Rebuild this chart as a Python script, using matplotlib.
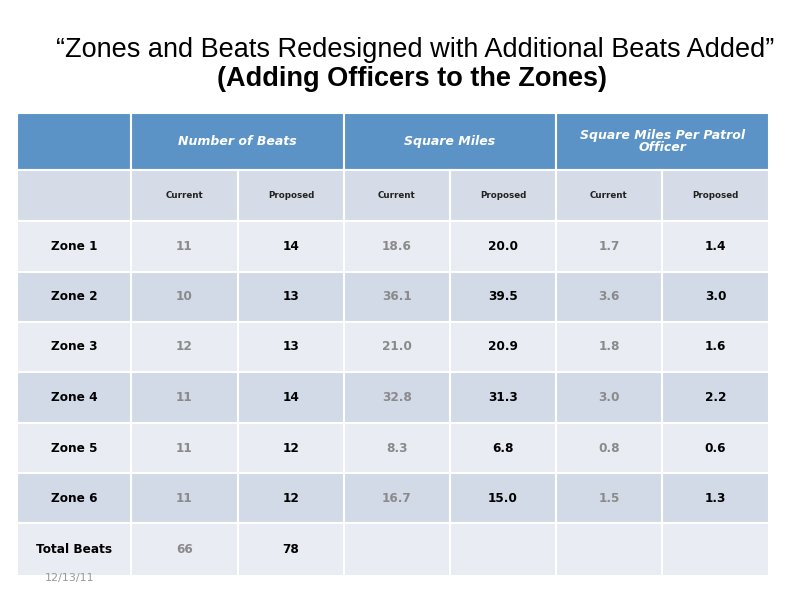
import matplotlib
matplotlib.use('Agg')
import matplotlib.pyplot as plt
from matplotlib.patches import Rectangle

# 数据
zones = ['Zone 1', 'Zone 2', 'Zone 3', 'Zone 4', 'Zone 5', 'Zone 6']
beats_current = ['11', '10', '12', '11', '11', '11']
beats_proposed = ['14', '13', '13', '14', '12', '12']
sqmi_current = ['18.6', '36.1', '21.0', '32.8', '8.3', '16.7']
sqmi_proposed = ['20.0', '39.5', '20.9', '31.3', '6.8', '15.0']
per_officer_current = ['1.7', '3.6', '1.8', '3.0', '0.8', '1.5']
per_officer_proposed = ['1.4', '3.0', '1.6', '2.2', '0.6', '1.3']
total_label = 'Total Beats'
total_current = '66'
total_proposed = '78'
group_headers = ['Number of Beats', 'Square Miles', 'Square Miles Per Patrol\nOfficer']
sub_headers = ['Current', 'Proposed']

title1 = '\u201cZones and Beats Redesigned with Additional Beats Added\u201d'
title2 = '(Adding Officers to the Zones)'
date_text = '12/13/11'

# 布局（像素）
col_x = [17, 131, 238, 344, 450, 556, 662, 769]
row_y = [113, 170, 221, 272, 322, 372, 423, 473, 523, 576]
BLUE = '#5b93c6'
SUB = '#d5dce8'
ROW_A = '#e9ecf3'
ROW_B = '#d3dae7'
GREY_TXT = '#8a8a8a'
CELL_FONT = 'DejaVu Sans'
TITLE_FONT = ['Liberation Sans', 'DejaVu Sans']

fig = plt.figure(figsize=(8, 6), dpi=100)
ax = fig.add_axes([0, 0, 1, 1])
ax.set_xlim(0, 800)
ax.set_ylim(600, 0)
ax.axis('off')


def cell(x0, x1, y0, y1, color):
    ax.add_patch(Rectangle((x0, y0), x1 - x0, y1 - y0, facecolor=color,
                           edgecolor='white', linewidth=1.5))


# 标题
ax.text(415, 50, title1, ha='center', va='center', fontsize=19.5,
        family=TITLE_FONT)
ax.text(412, 79, title2, ha='center', va='center', fontsize=19.5,
        fontweight='bold', family=TITLE_FONT)

# 表头第一行
cell(col_x[0], col_x[1], row_y[0], row_y[1], BLUE)
for g, name in enumerate(group_headers):
    x0, x1 = col_x[1 + 2 * g], col_x[3 + 2 * g]
    cell(x0, x1, row_y[0], row_y[1], BLUE)
    ax.text((x0 + x1) / 2, (row_y[0] + row_y[1]) / 2, name, ha='center',
            va='center', color='white', fontsize=9, fontweight='bold',
            fontstyle='italic', family=CELL_FONT, linespacing=0.95)

# 表头第二行
cell(col_x[0], col_x[1], row_y[1], row_y[2], SUB)
for c in range(6):
    x0, x1 = col_x[1 + c], col_x[2 + c]
    cell(x0, x1, row_y[1], row_y[2], SUB)
    ax.text((x0 + x1) / 2, (row_y[1] + row_y[2]) / 2, sub_headers[c % 2],
            ha='center', va='center', color='#222222', fontsize=6.3,
            fontweight='bold', family=CELL_FONT)

# 数据行
columns = [beats_current, beats_proposed, sqmi_current, sqmi_proposed,
           per_officer_current, per_officer_proposed]
labels = zones + [total_label]
for r, label in enumerate(labels):
    y0, y1 = row_y[2 + r], row_y[3 + r]
    yc = (y0 + y1) / 2
    bg = ROW_A if r % 2 == 0 else ROW_B
    cell(col_x[0], col_x[1], y0, y1, bg)
    ax.text((col_x[0] + col_x[1]) / 2, yc, label, ha='center', va='center',
            fontsize=8.7, fontweight='bold', color='black', family=CELL_FONT)
    for c in range(6):
        x0, x1 = col_x[1 + c], col_x[2 + c]
        cell(x0, x1, y0, y1, bg)
        if r < len(zones):
            val = columns[c][r]
        elif c == 0:
            val = total_current
        elif c == 1:
            val = total_proposed
        else:
            val = ''
        color = GREY_TXT if c % 2 == 0 else 'black'
        ax.text((x0 + x1) / 2, yc, val, ha='center', va='center',
                fontsize=8.7, fontweight='bold', color=color, family=CELL_FONT)

ax.text(70, 578, date_text, ha='center', va='center', fontsize=8,
        color='#999999', family=CELL_FONT)

fig.savefig('out.png', dpi=100)
